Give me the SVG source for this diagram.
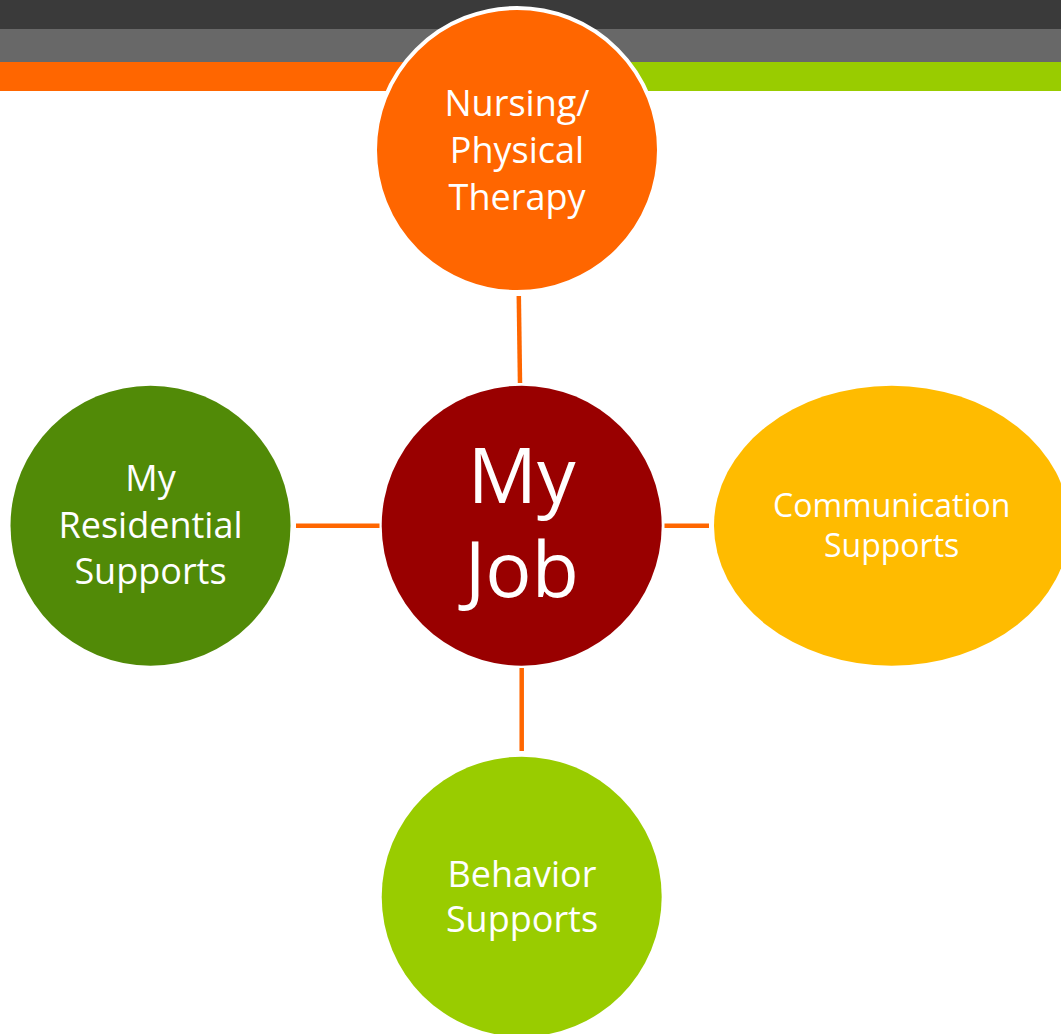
<svg xmlns="http://www.w3.org/2000/svg" width="1061" height="1034" viewBox="0 0 1061 1034">
  <style>
    .lbl { font-family: "Open Sans", "Noto Sans", sans-serif; fill: #ffffff; text-anchor: middle; }
    .m { font-size: 36px; }
    .s { font-size: 32px; }
    .big { font-size: 77px; }
    .conn { stroke: #ff6600; stroke-width: 4.5; fill: none; }
  </style>
  <rect x="0" y="0" width="1061" height="1034" fill="#ffffff"/>
  <g id="header">
    <rect x="0" y="0" width="1061" height="29" fill="#3a3a3a"/>
    <rect x="0" y="29" width="1061" height="33" fill="#686868"/>
    <rect x="0" y="62" width="517" height="29" fill="#ff6600"/>
    <rect x="517" y="62" width="544" height="29" fill="#99cc00"/>
  </g>
  <g id="connectors">
    <line class="conn" x1="518.8" y1="296" x2="520" y2="383"/>
    <line class="conn" x1="521.7" y1="668" x2="521.7" y2="751"/>
    <line class="conn" x1="296" y1="525.7" x2="379.5" y2="525.7"/>
    <line class="conn" x1="664.5" y1="525.7" x2="709" y2="525.7"/>
  </g>
  <g id="node-nursing">
    <circle cx="517" cy="150" r="142" fill="#ff6600" stroke="#ffffff" stroke-width="4"/>
    <text class="lbl m" x="517" y="116">Nursing/</text>
    <text class="lbl m" x="517" y="163">Physical</text>
    <text class="lbl m" x="517" y="210">Therapy</text>
  </g>
  <g id="node-myjob">
    <circle cx="521.7" cy="525.7" r="140" fill="#990000"/>
    <text class="lbl big" x="521.7" y="503">My</text>
    <text class="lbl big" x="521.7" y="596.5">Job</text>
  </g>
  <g id="node-residential">
    <circle cx="150.5" cy="525.7" r="140" fill="#518a07"/>
    <text class="lbl m" x="150.5" y="491">My</text>
    <text class="lbl m" x="150.5" y="538">Residential</text>
    <text class="lbl m" x="150.5" y="584">Supports</text>
  </g>
  <g id="node-communication">
    <ellipse cx="891.7" cy="525.7" rx="177.7" ry="140" fill="#ffbb00"/>
    <text class="lbl s" x="891.7" y="517">Communication</text>
    <text class="lbl s" x="891.7" y="557">Supports</text>
  </g>
  <g id="node-behavior">
    <circle cx="521.7" cy="896.7" r="140" fill="#99cc00"/>
    <text class="lbl m" x="522" y="886.5">Behavior</text>
    <text class="lbl m" x="522" y="931.5">Supports</text>
  </g>
</svg>
